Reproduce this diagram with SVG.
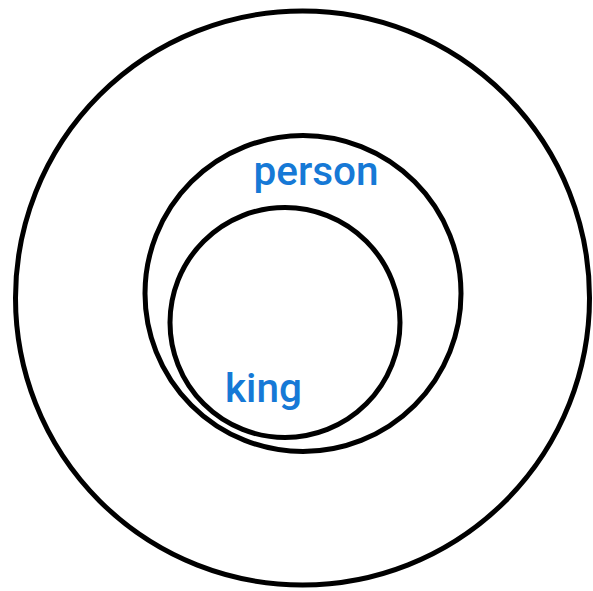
<svg xmlns="http://www.w3.org/2000/svg" width="593" height="591" viewBox="0 0 593 591">
<style>
.c{fill:none;stroke:#000;stroke-width:5}
.t{font-family:Roboto,"Liberation Sans",sans-serif;font-weight:500;font-size:40.5px;fill:#1679d6}
</style>
<rect width="593" height="591" fill="#fff"/>
<g id="outer"><circle class="c" cx="302.5" cy="298" r="287"/></g>
<g id="person"><circle class="c" cx="303" cy="293.5" r="158"/><text class="t" x="253.5" y="185">person</text></g>
<g id="king"><circle class="c" cx="285" cy="322.5" r="115"/><text class="t" x="225" y="402">king</text></g>
<g id="connectors"></g>
</svg>
